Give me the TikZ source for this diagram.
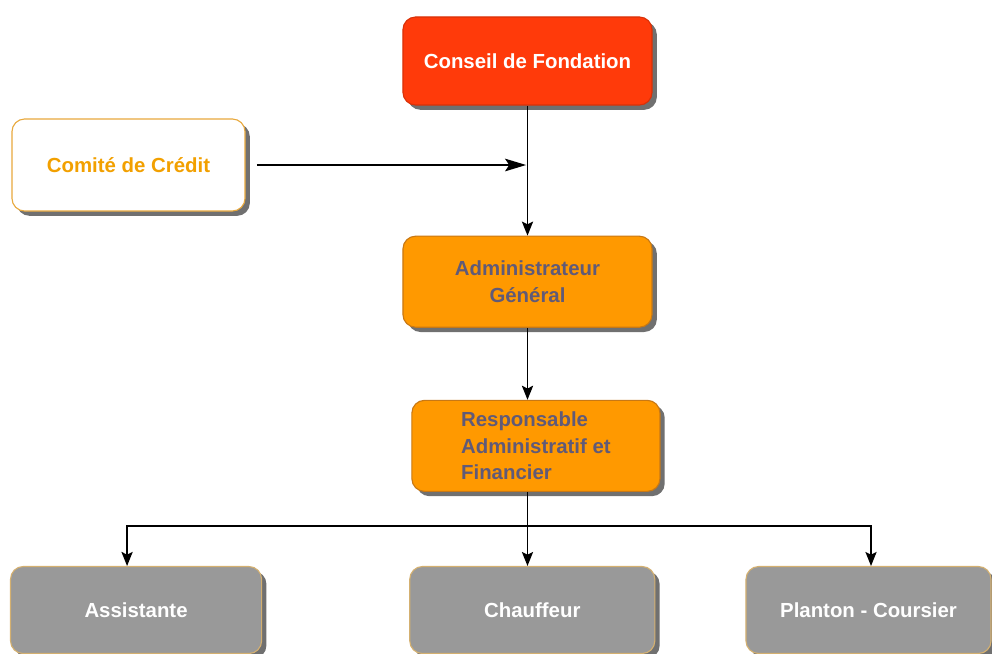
\documentclass[tikz,border=0pt]{standalone}
\usepackage{fontspec}
\setmainfont{Liberation Sans}
\usepackage{tikz}
\usetikzlibrary{positioning}
\usetikzlibrary{shadows}
\usetikzlibrary{arrows.meta}

\definecolor{conseilred}{RGB}{255,58,10}
\definecolor{adminorange}{RGB}{255,153,0}
\definecolor{adminborder}{RGB}{200,120,20}
\definecolor{textgrey}{RGB}{96,90,120}
\definecolor{comiteorange}{RGB}{242,160,0}
\definecolor{comiteborder}{RGB}{232,168,60}
\definecolor{staffgrey}{RGB}{153,153,153}
\definecolor{staffborder}{RGB}{212,176,112}

\tikzset{
  orgbox/.style={rectangle, rounded corners=9pt, line width=0.8pt,
    font=\bfseries\fontsize{14.5}{19}\selectfont, align=center,
    drop shadow={shadow xshift=0.12cm, shadow yshift=-0.12cm, fill=black!80, opacity=0.7}},
  topbox/.style={orgbox, fill=conseilred, draw=conseilred!85!black, text=white,
    minimum width=6.225cm, minimum height=2.2cm},
  sidebox/.style={orgbox, fill=white, draw=comiteborder, text=comiteorange,
    minimum width=5.825cm, minimum height=2.3cm},
  midbox/.style={orgbox, fill=adminorange, draw=adminborder, text=textgrey,
    minimum width=6.225cm, minimum height=2.275cm},
  staffbox/.style={orgbox, fill=staffgrey, draw=staffborder, text=white,
    minimum width=6.125cm, minimum height=2.175cm},
  link/.style={draw=black, line width=1pt},
  arrow/.style={link, -{Stealth[length=10pt, width=8pt, inset=2pt]}},
  longarrow/.style={link, -{Stealth[length=15pt, width=9pt, inset=3pt]}}
}

\begin{document}
\begin{tikzpicture}[x=0.025cm, y=-0.025cm]
  \useasboundingbox (0,0) rectangle (992,653);

  % Define nodes
  \node[topbox] (conseil) at (527.5,61) {Conseil de Fondation};
  \node[sidebox] (comite) at (128.5,165) {Comité de Crédit};
  \node[midbox, below=3.25cm of conseil] (admin) {Administrateur\\Général};
  \node[midbox, minimum width=6.2cm, align=left, below=1.8cm of admin, xshift=0.21cm] (resp)
    {Responsable\\Administratif et\\Financier};
  \node[staffbox, below=1.85cm of resp, xshift=-0.09cm] (chauffeur) {Chauffeur};
  \node[staffbox, minimum width=6.275cm, left=3.675cm of chauffeur] (assist) {Assistante};
  \node[staffbox, right=2.25cm of chauffeur] (planton) {Planton - Coursier};

  % Helper points
  \coordinate (join) at (conseil.south |- comite.east);
  \coordinate[yshift=-0.85cm] (bus) at (resp.south -| conseil.south);

  % Connect nodes
  \draw[arrow] (conseil.south) -- (admin.north -| conseil.south);
  \draw[longarrow, shorten <=8pt, shorten >=1pt] (comite.east) -- (join);
  \draw[arrow] (admin.south -| conseil.south) -- (resp.north -| conseil.south);
  \draw[link] (resp.south -| conseil.south) -- (bus);
  \draw[arrow] (bus) -- (chauffeur.north -| bus);
  \draw[arrow] (bus) -| ([xshift=-0.225cm]assist.north);
  \draw[arrow] (bus) -| ([xshift=0.0625cm]planton.north);

\end{tikzpicture}
\end{document}
